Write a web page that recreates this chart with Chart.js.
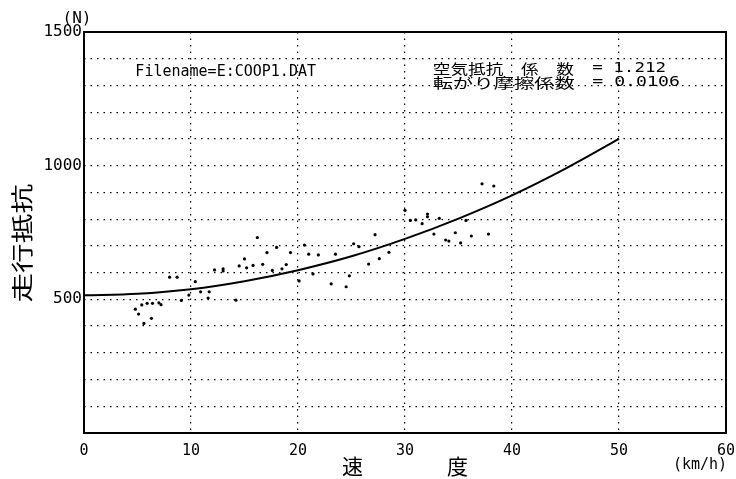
<!DOCTYPE html>
<html>
<head>
<meta charset="utf-8">
<script src="https://cdn.jsdelivr.net/npm/chart.js@4.4.0/dist/chart.umd.min.js"></script>
<style>
  html, body { margin: 0; padding: 0; background: #fff; }
  #wrap { width: 736px; height: 479px; }
</style>
</head>
<body>
<div id="wrap"><canvas id="chart" width="736" height="479"></canvas></div>
<script>
// 速度 (km/h) vs 走行抵抗 (N)
const curveSpeed = [0, 5, 10, 15, 20, 25, 30, 35, 40, 45, 50];
const curveForce = [515, 521, 538, 568, 609, 661, 726, 802, 889, 989, 1100];

const pointSpeed = [4.8, 5.1, 5.4, 5.6, 5.9, 6.3, 6.4, 7.0, 7.2, 8.0, 8.7, 9.1, 9.8, 10.4, 10.9,
  11.6, 11.7, 12.2, 13.0, 13.0, 14.2, 14.5, 15.0, 15.2, 15.8, 16.2, 16.7, 17.1, 17.6, 18.0,
  18.5, 18.9, 19.3, 20.1, 20.6, 21.0, 21.4, 21.9, 23.1, 23.5, 24.5, 24.8, 25.2, 25.7, 26.6,
  27.2, 27.6, 28.5, 30.0, 30.5, 31.0, 31.6, 32.1, 32.1, 32.7, 33.2, 33.8, 34.1, 34.7, 35.2,
  35.7, 36.2, 37.2, 37.8, 38.3];
const pointForce = [463, 445, 479, 410, 485, 429, 485, 487, 480, 583, 583, 496, 516, 566, 528,
  505, 528, 610, 614, 606, 497, 625, 651, 618, 627, 731, 631, 675, 608, 694,
  614, 630, 675, 569, 703, 669, 595, 666, 558, 669, 547, 588, 708, 697, 632,
  742, 652, 676, 833, 795, 797, 783, 819, 809, 744, 803, 722, 718, 749, 711,
  795, 737, 932, 744, 924];

const xTicks = [0, 10, 20, 30, 40, 50, 60];
const yLabelTicks = [500, 1000, 1500];

const MONO = '"DejaVu Sans Mono", monospace';
const JP = '"Noto Sans CJK JP", sans-serif';

// frame, annotations and axis titles
const overlay = {
    id: 'overlay',
    afterDraw(chart) {
        const { ctx, chartArea: a, scales: { x, y } } = chart;
        ctx.save();
        ctx.strokeStyle = '#000';
        ctx.lineWidth = 2;
        ctx.strokeRect(a.left, a.top, a.right - a.left, a.bottom - a.top);

        ctx.fillStyle = '#000';
        ctx.textBaseline = 'middle';
        const put = (text, px, py, font, sx = 1, align = 'left') => {
            ctx.save();
            ctx.font = font;
            ctx.textAlign = align;
            ctx.translate(px, py);
            ctx.scale(sx, 1);
            ctx.fillText(text, 0, 0);
            ctx.restore();
        };

        put('Filename=E:COOP1.DAT', x.getPixelForValue(4.8), y.getPixelForValue(1350), '15px ' + MONO);
        put('空気抵抗　係　数', x.getPixelForValue(32.6), y.getPixelForValue(1364), '14px ' + JP, 1.26);
        put('転がり摩擦係数', x.getPixelForValue(32.6), y.getPixelForValue(1310), '14px ' + JP, 1.45);
        put('= 1.212', x.getPixelForValue(47.5), y.getPixelForValue(1364), '14px ' + MONO, 1.25);
        put('= 0.0106', x.getPixelForValue(47.5), y.getPixelForValue(1310), '14px ' + MONO, 1.3);

        put('(N)', a.left - 7, a.top - 13, '16px ' + MONO, 1, 'center');
        put('(km/h)', a.right - 26, a.bottom + 32, '15px ' + MONO, 1, 'center');
        put('速　　　　度', x.getPixelForValue(30), a.bottom + 33, '21px ' + JP, 1, 'center');

        ctx.save();
        ctx.translate(22, y.getPixelForValue(710));
        ctx.rotate(-Math.PI / 2);
        ctx.scale(1.35, 1);
        ctx.font = '22px ' + JP;
        ctx.textAlign = 'center';
        ctx.fillText('走行抵抗', 0, 0);
        ctx.restore();

        ctx.restore();
    }
};

new Chart(document.getElementById('chart'), {
    type: 'scatter',
    data: {
        datasets: [
            {
                label: 'curve',
                data: curveSpeed.map((v, i) => ({ x: v, y: curveForce[i] })),
                showLine: true,
                borderColor: '#000',
                borderWidth: 2,
                pointRadius: 0,
                tension: 0.4,
                cubicInterpolationMode: 'monotone',
            },
            {
                label: 'measured',
                data: pointSpeed.map((v, i) => ({ x: v, y: pointForce[i] })),
                backgroundColor: '#000',
                borderColor: '#000',
                borderWidth: 0,
                pointRadius: 1.6,
            }
        ]
    },
    options: {
        responsive: false,
        animation: false,
        layout: { padding: { top: 32, right: 10, left: 0, bottom: 0 } },
        plugins: { legend: { display: false }, tooltip: { enabled: false } },
        scales: {
            x: {
                type: 'linear', min: 0, max: 60,
                afterBuildTicks: s => { s.ticks = xTicks.map(v => ({ value: v })); },
                afterFit: s => { s.height = 46; s.paddingLeft = 0; s.paddingRight = 0; },
                grid: { color: '#000', lineWidth: 1.2, drawTicks: false },
                border: { display: false, dash: [1.5, 5] },
                ticks: { autoSkip: false, color: '#000', padding: 9, maxRotation: 0, font: { family: MONO, size: 15 } },
            },
            y: {
                type: 'linear', min: 0, max: 1500,
                ticks: {
                    stepSize: 100, autoSkip: false, color: '#000', padding: 2,
                    font: { family: MONO, size: 16 },
                    callback: v => yLabelTicks.includes(v) ? String(v) : '',
                },
                afterFit: s => { s.width = 84; s.paddingTop = 0; s.paddingBottom = 0; },
                grid: { color: '#000', lineWidth: 1.2, drawTicks: false },
                border: { display: false, dash: [1.5, 5] },
            }
        }
    },
    plugins: [overlay]
});
</script>
</body>
</html>
